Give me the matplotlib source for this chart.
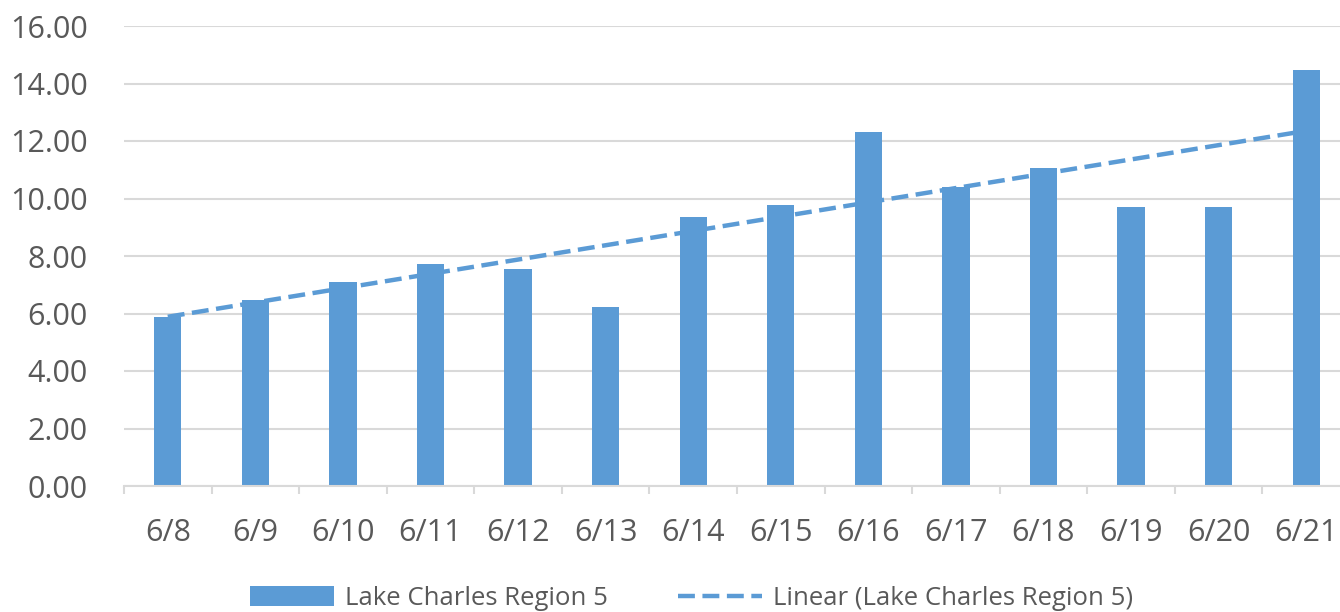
import numpy as np
from matplotlib import pyplot as plt
from matplotlib.ticker import FixedLocator, MultipleLocator

plt.rcParams['font.family'] = ['Open Sans', 'DejaVu Sans']

dates = ["6/8", "6/9", "6/10", "6/11", "6/12", "6/13", "6/14",
         "6/15", "6/16", "6/17", "6/18", "6/19", "6/20", "6/21"]
values = [5.89, 6.48, 7.10, 7.71, 7.54, 6.24, 9.35,
          9.77, 12.30, 10.40, 11.06, 9.69, 9.69, 14.46]
series_name = "Lake Charles Region 5"

bar_color = "#5B9BD5"
text_color = "#595959"
grid_color = "#D9D9D9"

x = np.arange(len(dates))
y = np.array(values)
# excel style linear trendline
slope, icpt = np.polyfit(x, y, 1)

fig = plt.figure(figsize=(13.4, 6.12), dpi=100)
ax = fig.add_axes([124 / 1340, 126 / 612, 1226 / 1340, 460 / 612])

bars = ax.bar(x, y, width=0.31, color=bar_color, label=series_name, zorder=2)
trend, = ax.plot(x, slope * x + icpt, color=bar_color, lw=3.2, dashes=(3.8, 1.7),
                 label="Linear ({})".format(series_name), zorder=3)

ax.set_xlim(-0.5, len(dates) - 0.5)
ax.set_ylim(0, 16)
ax.yaxis.set_major_locator(MultipleLocator(2))
ax.yaxis.set_major_formatter(lambda v, p: "{:.2f}".format(v))
ax.set_xticks(x)
ax.set_xticklabels(dates)
ax.xaxis.set_minor_locator(FixedLocator(np.arange(-0.5, len(dates), 1.0)))

ax.grid(axis='y', color=grid_color, lw=1.5, zorder=0)
ax.set_axisbelow(True)
for s in ['top', 'right', 'left']:
    ax.spines[s].set_visible(False)
ax.spines['bottom'].set_color(grid_color)
ax.spines['bottom'].set_linewidth(1.5)

ax.tick_params(axis='y', length=0, pad=26, labelsize=22, labelcolor=text_color)
ax.tick_params(axis='x', which='major', length=0, pad=23, labelsize=22, labelcolor=text_color)
ax.tick_params(axis='x', which='minor', length=6, width=1.5, color=grid_color, direction='out')

fig.legend(handles=[bars, trend], loc='center', bbox_to_anchor=(0.516, 0.022), ncol=2,
           frameon=False, fontsize=18.5, labelcolor=text_color, handlelength=3.27,
           handleheight=0.85, handletextpad=0.45, columnspacing=2.7)

fig.savefig("out.png", dpi=100)
